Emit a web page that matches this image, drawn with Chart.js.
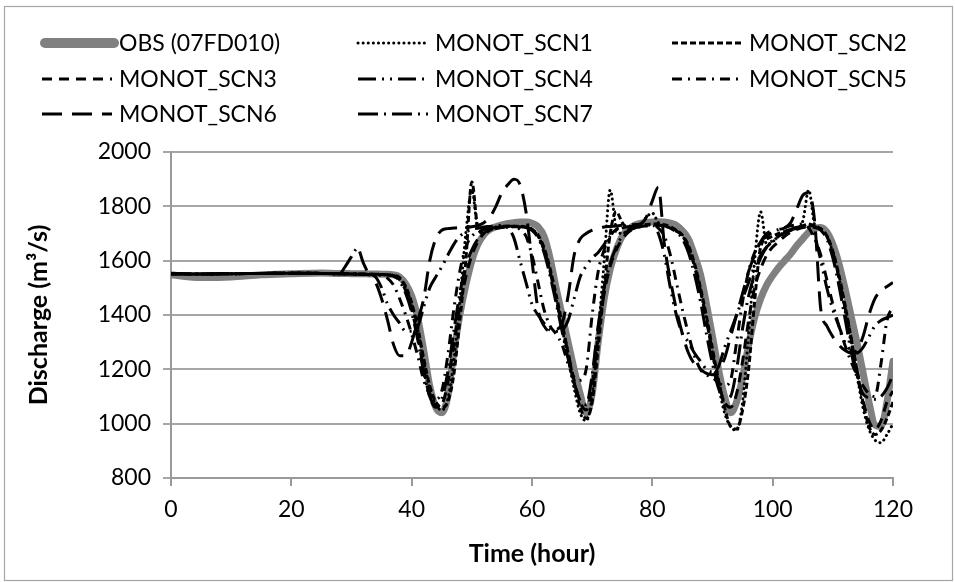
<!DOCTYPE html>
<html><head><meta charset="utf-8">
<script src="https://cdn.jsdelivr.net/npm/chart.js@4.4.1/dist/chart.umd.min.js"></script>
<style>html,body{margin:0;padding:0;background:#fff;}#wrap{width:955px;height:582px;position:relative;}</style>
</head><body><div id="wrap"><canvas id="c" width="955" height="582"></canvas></div>
<script>
// ---- data (hours and discharge, m3/s) ----
const hours = [0,5,10,15,20,25,
 28,29,30,31,32,33,34,35,36,37, 38,39,40,41,42,43,44,45,46,47,
 48,49,50,51,52,53,54,55,56,57, 58,59,60,61,62,63,64,65,66,67,
 68,69,70,71,72,73,74,75,76,77, 78,79,80,81,82,83,84,85,86,87,
 88,89,90,91,92,93,94,95,96,97, 98,99,100,101,102,103,104,105,106,107,
 108,109,110,111,112,113,114,115,116,117, 118,119,120];
const obs = [1548,1538,1540,1548,1552,1555,
 1553,1553,1552,1552,1552,1551,1551,1550,1550,1548, 1540,1515,1470,1390,1270,1140,1060,1040,1100,1260,
 1400,1510,1600,1660,1695,1715,1725,1732,1737,1740, 1742,1742,1738,1725,1690,1610,1500,1400,1300,1200,
 1110,1040,1110,1300,1460,1570,1640,1690,1715,1730, 1737,1740,1742,1743,1742,1738,1730,1710,1680,1620,
 1550,1440,1320,1200,1100,1040,1080,1170,1290,1390, 1460,1510,1545,1575,1600,1625,1655,1680,1705,1720,
 1722,1705,1660,1590,1500,1400,1300,1190,1080,995, 990,1080,1230];
const scn1 = [1552,1551,1552,1553,1554,1553,
 1551,1551,1551,1550,1550,1550,1549,1549,1548,1545, 1535,1500,1440,1350,1230,1130,1070,1050,1090,1230,
 1450,1700,1860,1720,1710,1715,1720,1722,1724,1725, 1725,1722,1715,1690,1640,1560,1460,1350,1240,1130,
 1040,1010,1100,1330,1600,1860,1720,1700,1710,1720, 1730,1760,1775,1740,1728,1720,1708,1690,1650,1580,
 1490,1380,1260,1140,1040,990,975,1080,1330,1600, 1780,1660,1670,1690,1700,1712,1720,1745,1860,1730,
 1715,1690,1630,1540,1420,1300,1180,1060,980,940, 930,960,1000];
const scn2 = [1552,1551,1552,1553,1554,1553,
 1552,1552,1551,1551,1550,1550,1550,1549,1548,1546, 1538,1505,1445,1355,1240,1140,1080,1060,1080,1180,
 1380,1600,1890,1720,1700,1712,1720,1724,1726,1727, 1727,1724,1716,1695,1648,1572,1475,1370,1260,1150,
 1060,1020,1080,1280,1500,1700,1780,1740,1715,1722, 1728,1732,1735,1735,1732,1725,1712,1694,1656,1590,
 1500,1395,1275,1160,1060,990,980,1050,1200,1450, 1650,1680,1690,1700,1708,1715,1722,1728,1735,1728,
 1718,1692,1634,1548,1440,1320,1200,1080,990,960, 975,1020,1080];
const scn3 = [1552,1551,1552,1553,1554,1553,
 1552,1552,1551,1551,1550,1550,1550,1549,1548,1545, 1530,1490,1420,1320,1200,1100,1060,1070,1150,1290,
 1430,1540,1620,1670,1700,1715,1720,1722,1724,1725, 1725,1722,1715,1690,1640,1560,1460,1360,1260,1160,
 1080,1050,1140,1330,1480,1580,1640,1680,1705,1718, 1725,1728,1730,1730,1728,1722,1710,1690,1650,1580,
 1490,1380,1260,1150,1080,1060,1110,1230,1380,1500, 1570,1620,1650,1670,1690,1705,1715,1722,1725,1722,
 1715,1690,1630,1540,1430,1320,1200,1090,1010,980, 1010,1080,1120];
const scn4 = [1552,1551,1552,1553,1554,1553,
 1552,1552,1551,1551,1550,1550,1540,1500,1440,1400, 1370,1340,1340,1355,1430,1500,1540,1577,1620,1660,
 1690,1705,1715,1720,1724,1726,1728,1730,1720,1683, 1600,1520,1440,1400,1370,1345,1340,1345,1380,1460,
 1540,1580,1610,1630,1660,1690,1710,1720,1725,1728, 1730,1732,1732,1700,1620,1500,1400,1330,1300,1260,
 1230,1200,1190,1210,1280,1340,1400,1460,1520,1580, 1620,1650,1670,1690,1705,1715,1722,1728,1735,1690,
 1600,1500,1420,1360,1300,1270,1260,1280,1320,1360, 1380,1390,1400];
const scn5 = [1552,1551,1552,1553,1554,1553,
 1552,1552,1551,1551,1550,1549,1548,1545,1535,1510, 1460,1400,1330,1250,1160,1110,1090,1120,1250,1420,
 1560,1650,1690,1705,1715,1720,1724,1726,1728,1725, 1715,1690,1620,1520,1420,1360,1330,1290,1220,1170,
 1160,1200,1400,1560,1640,1690,1715,1725,1730,1732, 1733,1733,1730,1720,1690,1620,1520,1420,1330,1250,
 1200,1180,1170,1150,1140,1160,1300,1450,1560,1630, 1670,1690,1705,1715,1722,1728,1732,1735,1720,1680,
 1620,1530,1440,1360,1290,1230,1180,1140,1110,1100, 1220,1380,1430];
const scn6 = [1552,1551,1552,1553,1554,1553,
 1552,1552,1551,1550,1550,1548,1520,1460,1380,1290, 1250,1250,1300,1380,1460,1600,1680,1712,1718,1720,
 1722,1724,1725,1730,1740,1760,1800,1850,1880,1900, 1880,1780,1600,1420,1360,1340,1345,1370,1470,1620,
 1680,1700,1712,1720,1724,1726,1728,1730,1730,1732, 1735,1760,1820,1870,1660,1530,1420,1330,1260,1220,
 1200,1185,1180,1200,1240,1320,1400,1480,1560,1620, 1670,1700,1710,1715,1720,1740,1790,1840,1850,1740,
 1420,1360,1320,1290,1270,1260,1270,1320,1400,1460, 1490,1505,1520];
const scn7 = [1552,1551,1552,1553,1554,1553,
 1552,1580,1615,1645,1590,1552,1550,1549,1547,1543, 1525,1480,1410,1310,1190,1100,1070,1090,1190,1340,
 1480,1580,1640,1680,1705,1718,1722,1725,1726,1727, 1726,1722,1712,1685,1630,1545,1445,1340,1240,1150,
 1085,1070,1180,1360,1500,1590,1650,1690,1710,1720, 1726,1730,1732,1731,1728,1720,1705,1680,1630,1550,
 1450,1330,1220,1130,1090,1100,1200,1350,1470,1550, 1610,1650,1675,1690,1702,1712,1720,1726,1730,1726,
 1712,1680,1610,1510,1390,1270,1170,1110,1095,1090, 1100,1130,1180];
const seriesNames = ['OBS (07FD010)','MONOT_SCN1','MONOT_SCN2','MONOT_SCN3','MONOT_SCN4','MONOT_SCN5','MONOT_SCN6','MONOT_SCN7'];
const xTitle = 'Time (hour)';
const yTitle = 'Discharge (m³/s)';

// ---- styles ----
const FONT = 'Lato';
const styles = [
  {color:'#808080', width:7, dash:[], cap:'round'},
  {color:'#000', width:3, dash:[0.1,5], cap:'round'},
  {color:'#000', width:3, dash:[6,3], cap:'butt'},
  {color:'#000', width:3, dash:[10,7], cap:'butt'},
  {color:'#000', width:3, dash:[18,6,2,6,2,6], cap:'butt'},
  {color:'#000', width:3, dash:[10,6,2,6], cap:'butt'},
  {color:'#000', width:3, dash:[20,10], cap:'butt'},
  {color:'#000', width:3, dash:[20,6,2,6], cap:'butt'}
];
const allValues = [obs,scn1,scn2,scn3,scn4,scn5,scn6,scn7];
const datasets = allValues.map((vals,i)=>({
  label: seriesNames[i],
  data: hours.map((h,j)=>({x:h,y:vals[j]})),
  borderColor: styles[i].color,
  borderWidth: styles[i].width,
  borderDash: styles[i].dash,
  borderCapStyle: styles[i].cap,
  borderJoinStyle: 'round',
  pointRadius: 0,
  fill: false,
  cubicInterpolationMode: 'monotone',
  order: i===0 ? 10 : 0
}));

const frameAndLegend = {
  id:'frameAndLegend',
  beforeDraw(chart){
    const ctx = chart.ctx;
    ctx.save();
    ctx.fillStyle='#fff'; ctx.fillRect(0,0,chart.width,chart.height);
    ctx.strokeStyle='#a6a6a6'; ctx.lineWidth=1.2;
    ctx.strokeRect(4.5,6.5,948,574);
    ctx.restore();
  },
  afterDraw(chart){
    const ctx = chart.ctx;
    const cols=[42,358,672], rows=[43,79,114];
    ctx.save();
    ctx.font = '23px '+FONT;
    ctx.textBaseline='middle';
    ctx.fillStyle='#000';
    seriesNames.forEach((name,i)=>{
      const cx = cols[i%3], cy = rows[Math.floor(i/3)];
      const st = styles[i];
      ctx.beginPath();
      ctx.setLineDash(st.dash);
      ctx.lineCap = i===0 ? 'round' : st.cap;
      ctx.lineWidth = i===0 ? 10 : 3;
      ctx.strokeStyle = st.color;
      ctx.moveTo(cx + (i===0?3:0), cy);
      ctx.lineTo(cx + (i===0?72:70), cy);
      ctx.stroke();
      ctx.setLineDash([]);
      ctx.fillText(name, cx + 77, cy+1);
    });
    ctx.restore();
  }
};

new Chart(document.getElementById('c'), {
  type:'line',
  data:{datasets},
  options:{
    responsive:false, animation:false, events:[],
    layout:{padding:{top:152,left:0,right:62,bottom:0}},
    plugins:{legend:{display:false}, tooltip:{enabled:false}},
    scales:{
      x:{type:'linear', min:0, max:120,
        ticks:{stepSize:20, color:'#000', font:{family:FONT,size:23}, padding:10, maxRotation:0, callback:v=>String(v)},
        grid:{display:true, drawOnChartArea:false, drawTicks:true, tickLength:8, color:'#999', lineWidth:2},
        border:{display:true, color:'#999', width:2},
        title:{display:true, text:xTitle, color:'#000', font:{family:FONT,size:25,weight:'bold'}, padding:{top:0,bottom:13}},
        afterFit(s){ s.height = 104; }
      },
      y:{type:'linear', min:800, max:2000,
        ticks:{stepSize:200, color:'#000', font:{family:FONT,size:23}, padding:12, callback:v=>String(v)},
        grid:{display:true, drawOnChartArea:true, drawTicks:true, tickLength:8, color:'#a6a6a6', lineWidth:2},
        border:{display:true, color:'#999', width:2},
        title:{display:true, text:yTitle, color:'#000', font:{family:FONT,size:25,weight:'bold'}, padding:{top:24,bottom:0}},
        afterFit(s){ s.width = 171; }
      }
    }
  },
  plugins:[frameAndLegend]
});
</script></body></html>
